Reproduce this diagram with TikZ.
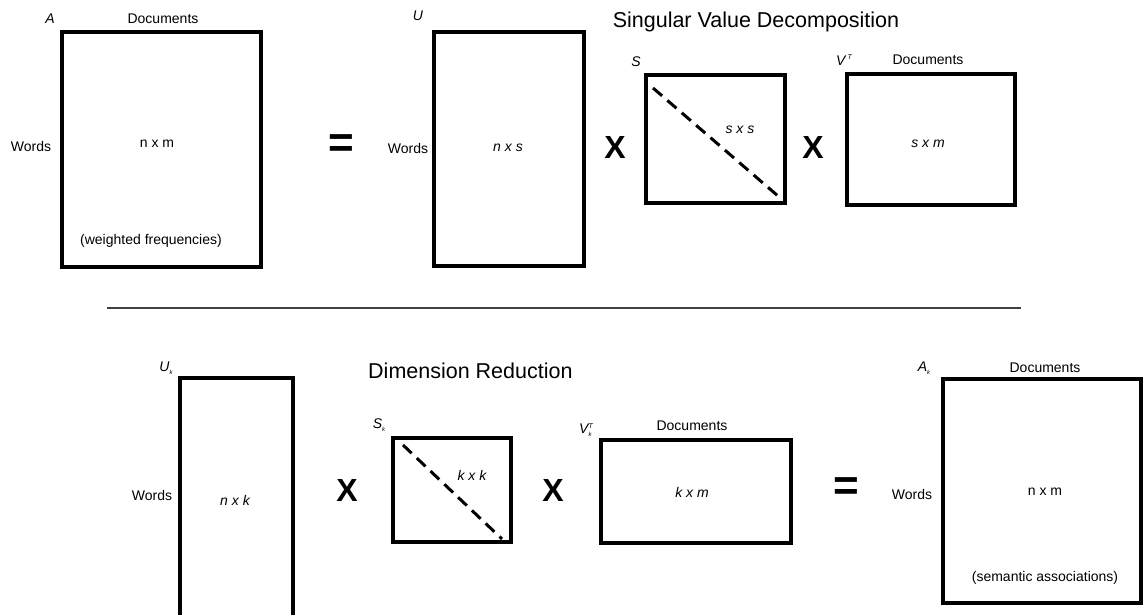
\documentclass[tikz,border=0pt]{standalone}
\usepackage{fontspec}
\setmainfont{Liberation Sans}
\newcommand{\supT}{\raisebox{5.5pt}{\fontsize{7}{7}\selectfont\itshape T}}
\newcommand{\subk}[1]{\raisebox{-3pt}{\fontsize{6}{6}\selectfont\itshape #1}}
\begin{document}
\begin{tikzpicture}[x=1pt,y=-1pt,
  lbl/.style={font=\fontsize{14}{16}\selectfont, inner sep=0},
  itl/.style={font=\fontsize{14}{16}\selectfont\itshape, inner sep=0},
  ttl/.style={font=\fontsize{21.5}{24}\selectfont, inner sep=0},
  times/.style={font=\fontsize{32}{34}\selectfont\bfseries, inner sep=0},
  eqsign/.style={font=\fontsize{44}{46}\selectfont\bfseries, inner sep=0},
  mbox/.style={draw, line width=3.5pt, inner sep=0, outer sep=0},
  diag/.style={line width=3pt, dash pattern=on 12pt off 7pt},
  rule/.style={line width=1.3pt, draw=black!75}]
\clip (0,0) rectangle (1143,615);
\fill[white] (0,0) rectangle (1143,615);

% ---------- top: SVD ----------
\node[mbox, minimum width=199pt, minimum height=235pt] (A) at (161.5,149.5) {};
\node[itl] (Alab) at (50,19) {A};
\node[lbl] (Adoc) at (163,19) {Documents};
\node[lbl] (Awords) at (31,146) {Words};
\node[lbl] (Adim) at (157,144) {n x m};
\node[lbl] (Awf) at (151,241) {(weighted frequencies)};

\node[eqsign] (eq1) at (341,146) {=};

\node[mbox, minimum width=150pt, minimum height=234pt] (U) at (509,149) {};
\node[itl] (Ulab) at (418,16) {U};
\node[lbl] (Uwords) at (408,148) {Words};
\node[itl] (Udim) at (508,148) {n x s};

\node[times] (x1) at (615,147) {X};

\node[mbox, minimum width=139pt, minimum height=128pt] (S) at (715.5,139) {};
\node[itl] (Slab) at (636,62) {S};
\node[itl] (Sdim) at (740,130) {s x s};
\coordinate (s1) at (653,88);
\coordinate (s2) at (778,196);
\draw[diag] (s1) -- (s2);

\node[times] (x2) at (813,147) {X};

\node[mbox, minimum width=168pt, minimum height=131pt] (VT) at (931,139.5) {};
\node[itl] (VTlab) at (844,60) {V\,\supT};
\node[lbl] (VTdoc) at (928,60) {Documents};
\node[itl] (VTdim) at (928,144) {s x m};

\node[ttl] (t1) at (756,22) {Singular Value Decomposition};

% separator
\coordinate (L1) at (107,308);
\coordinate (L2) at (1021,308);
\draw[rule] (L1) -- (L2);

% ---------- bottom: dimension reduction ----------
\node[mbox, minimum width=113pt, minimum height=262pt] (Uk) at (236.5,509) {};
\node[itl] (Uklab) at (166,368) {U\subk{k}};
\node[lbl] (Ukwords) at (152,495) {Words};
\node[itl] (Ukdim) at (235,500) {n x k};

\node[ttl, anchor=west] (t2) at (368,371) {Dimension Reduction};

\node[times] (x3) at (347,490) {X};

\node[mbox, minimum width=118pt, minimum height=104pt] (Sk) at (452,490) {};
\node[itl] (Sklab) at (379,425) {S\subk{k}};
\node[itl] (Skdim) at (472,475) {k x k};
\coordinate (k1) at (403,445);
\coordinate (k2) at (502,539);
\draw[diag] (k1) -- (k2);

\node[times] (x4) at (553,490) {X};

\node[mbox, minimum width=190pt, minimum height=103pt] (Vk) at (696,491.5) {};
\node[itl] (Vklab) at (586,430) {V\rlap{\subk{k}}\supT};
\node[lbl] (Vkdoc) at (692,426) {Documents};
\node[itl] (Vkdim) at (692,492) {k x m};

\node[eqsign] (eq2) at (846,489) {=};

\node[mbox, minimum width=198pt, minimum height=224pt] (Ak) at (1042,491) {};
\node[itl] (Aklab) at (924,368) {A\subk{k}};
\node[lbl] (Akdoc) at (1045,368) {Documents};
\node[lbl] (Akwords) at (912,494) {Words};
\node[lbl] (Akdim) at (1045,492) {n x m};
\node[lbl] (Aksa) at (1045,578) {(semantic associations)};
\end{tikzpicture}
\end{document}
